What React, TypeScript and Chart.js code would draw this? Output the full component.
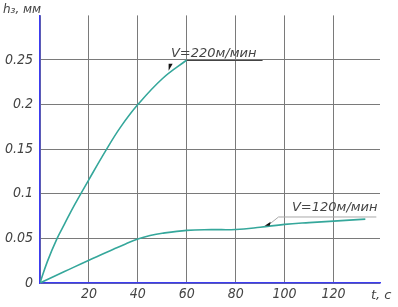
import React, { useEffect, useRef } from "react";
import { Chart, registerables } from "chart.js";

Chart.register(...registerables);

const t220 = [0, 3, 7, 10, 14, 20, 27, 33, 40, 50, 60];
const h220 = [0, 0.024, 0.05, 0.066, 0.087, 0.116, 0.149, 0.175, 0.2, 0.229, 0.25];
const t120 = [0, 10, 20, 30, 35, 40, 45, 50, 60, 70, 80, 90, 100, 110, 120, 133];
const h120 = [0, 0.0128, 0.0256, 0.0378, 0.0438, 0.0493, 0.0532, 0.0558, 0.059, 0.0598, 0.06, 0.0625, 0.0657, 0.0677, 0.0694, 0.0716];
const xTicks = [20, 40, 60, 80, 100, 120];
const yTicks = [0, 0.05, 0.1, 0.15, 0.2, 0.25];
const label220 = "V=220м/мин";
const label120 = "V=120м/мин";
const xTitle = "t, c";
const yTitle = "h₃, мм";

const CURVE = "#35a79b";
const AXIS = "#3c3cf0";
const GRID = "#7a7a7a";
const TEXT = "#444";
const FONT = '"DejaVu Sans", sans-serif';
const FONTC = '"DejaVu Sans Condensed", "DejaVu Sans", sans-serif';

const annot = {
  id: "annot",
  afterDraw(chart: any) {
    const { ctx, scales } = chart;
    const x = scales.x, y = scales.y;
    ctx.save();
    const x60 = x.getPixelForValue(60), y25 = y.getPixelForValue(0.25);
    ctx.strokeStyle = "#444";
    ctx.lineWidth = 1;
    ctx.beginPath();
    ctx.moveTo(x60, y25 + 0.5);
    ctx.lineTo(x.getPixelForValue(91), y25 + 0.5);
    ctx.stroke();
    ctx.fillStyle = TEXT;
    ctx.font = "italic 13px " + FONT;
    ctx.textAlign = "center";
    ctx.textBaseline = "alphabetic";
    ctx.fillText(label220, x.getPixelForValue(71), y25 - 3);
    const ax = x.getPixelForValue(53), ay = y.getPixelForValue(0.239);
    ctx.fillStyle = "#111";
    ctx.beginPath();
    ctx.moveTo(ax - 1, ay + 1);
    ctx.lineTo(ax - 1, ay - 6);
    ctx.lineTo(ax + 3, ay - 6);
    ctx.closePath();
    ctx.fill();
    const lx0 = x.getPixelForValue(97.5), ly = y.getPixelForValue(0.074);
    const ex = x.getPixelForValue(137.5);
    const bx = x.getPixelForValue(93.5), by = y.getPixelForValue(0.0652);
    ctx.strokeStyle = "#a8a8a8";
    ctx.beginPath();
    ctx.moveTo(ex, ly);
    ctx.lineTo(lx0, ly);
    ctx.lineTo(bx, by);
    ctx.stroke();
    ctx.fillStyle = "#111";
    ctx.beginPath();
    ctx.moveTo(bx - 4, by + 1);
    ctx.lineTo(bx + 2, by - 3);
    ctx.lineTo(bx + 1, by + 1);
    ctx.closePath();
    ctx.fill();
    ctx.fillStyle = TEXT;
    ctx.font = "italic 13px " + FONT;
    ctx.textAlign = "center";
    ctx.fillText(label120, x.getPixelForValue(120.5), ly - 6);
    ctx.font = "italic 13px " + FONT;
    ctx.fillStyle = TEXT;
    ctx.textAlign = "left";
    ctx.textBaseline = "middle";
    ctx.fillText(xTitle, x.right - 9, x.bottom - 11);
    ctx.font = "italic 12px " + FONT;
    ctx.fillText(yTitle, 3, 10);
    ctx.restore();
  },
};

export default function App() {
  const ref = useRef<HTMLCanvasElement>(null);
  useEffect(() => {
    const chart = new Chart(ref.current!, {
      type: "line",
      data: {
        datasets: [
          {
            data: t220.map((t, i) => ({ x: t, y: h220[i] })),
            borderColor: CURVE,
            borderWidth: 1.6,
            pointRadius: 0,
            tension: 0.4,
          },
          {
            data: t120.map((t, i) => ({ x: t, y: h120[i] })),
            borderColor: CURVE,
            borderWidth: 1.6,
            pointRadius: 0,
            tension: 0.4,
          },
        ],
      },
      options: {
        animation: false,
        responsive: false,
        layout: { padding: { top: 14, right: 18, left: 0, bottom: 0 } },
        plugins: { legend: { display: false }, tooltip: { enabled: false } },
        scales: {
          x: {
            type: "linear",
            min: 0,
            max: 139,
            afterFit: (s: any) => { s.height = 24; },
            afterBuildTicks: (s: any) => { s.ticks = [0, ...xTicks].map((v) => ({ value: v })); },
            ticks: {
              includeBounds: false,
              padding: 3,
              color: TEXT,
              font: { family: FONTC, size: 14, style: "italic" },
              callback: (v: any) => (v === 0 ? "" : String(v)),
              maxRotation: 0,
            },
            grid: { color: GRID, lineWidth: 1, drawTicks: false },
            border: { color: AXIS, width: 1.5 },
          },
          y: {
            type: "linear",
            min: 0,
            max: 0.3,
            afterFit: (s: any) => { s.width = 40; },
            afterBuildTicks: (s: any) => { s.ticks = yTicks.map((v) => ({ value: v })); },
            ticks: {
              padding: 7,
              color: TEXT,
              font: { family: FONTC, size: 14, style: "italic" },
              callback: (v: any) => String(Math.round(v * 100) / 100),
            },
            grid: { color: GRID, lineWidth: 1, drawTicks: false },
            border: { color: AXIS, width: 1.5 },
          },
        },
      },
      plugins: [annot],
    } as any);
    return () => chart.destroy();
  }, []);
  return (
    <div style={{ position: "fixed", left: 0, top: 0, width: 398, height: 307, background: "#fff" }}>
      <canvas ref={ref} width={398} height={307} />
    </div>
  );
}
